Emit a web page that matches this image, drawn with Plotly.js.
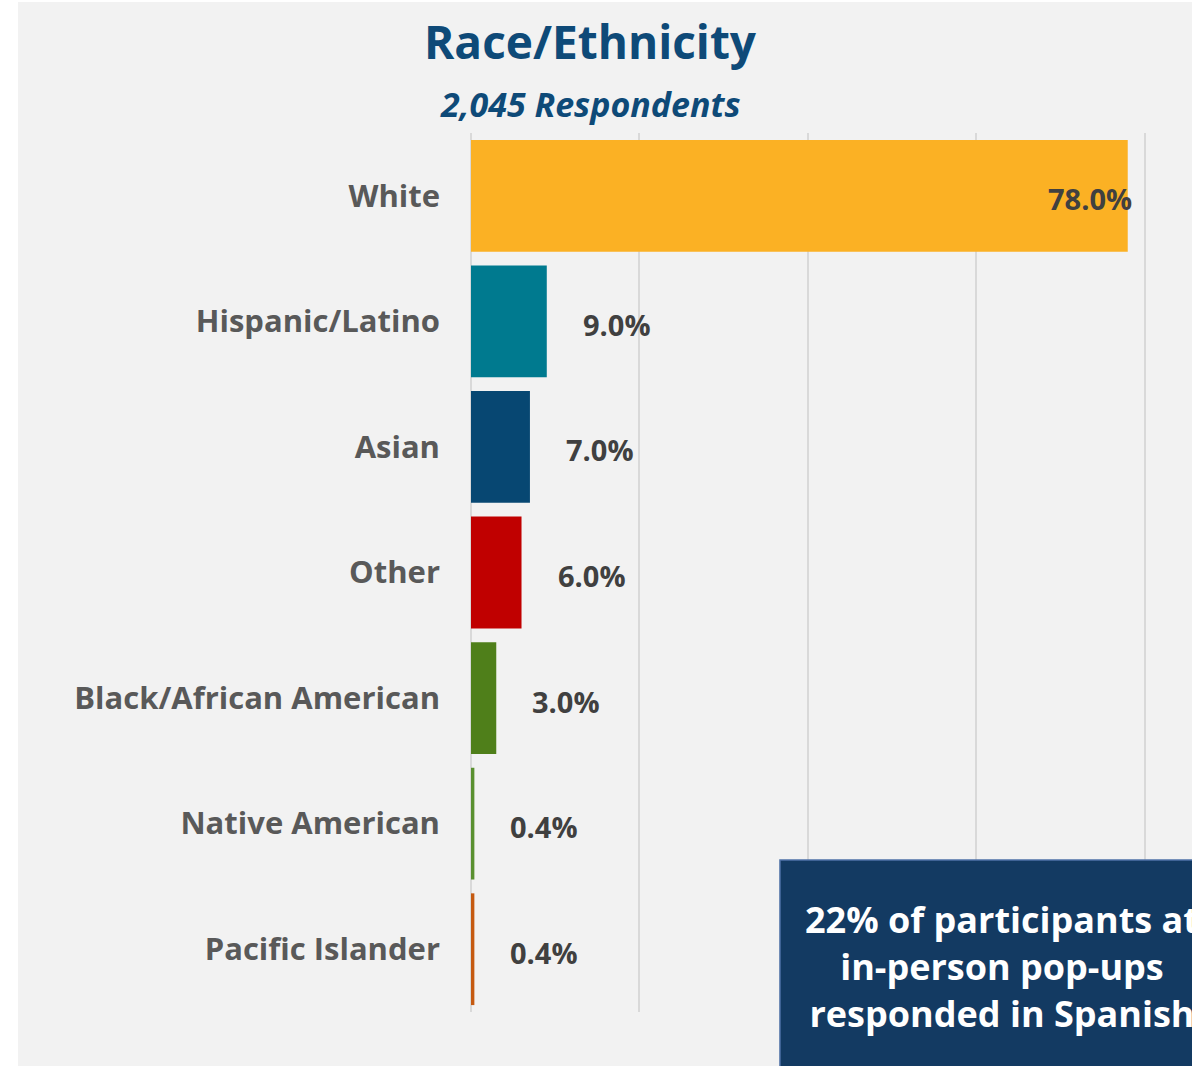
<!DOCTYPE html>
<html>
<head>
<meta charset="utf-8">
<script src="https://cdn.plot.ly/plotly-3.0.1.min.js"></script>
<style>
html, body { margin:0; padding:0; background:#ffffff; overflow:hidden; width:1192px; height:1066px; }
#chart { position:absolute; left:18px; top:2px; width:1500px; height:1064px; }
</style>
</head>
<body>
<div id="chart"></div>
<script>
// Data
const categories = ["White", "Hispanic/Latino", "Asian", "Other", "Black/African American", "Native American", "Pacific Islander"];
const percents = [78.0, 9.0, 7.0, 6.0, 3.0, 0.4, 0.4];
const barColors = ["#FBB124", "#007A8F", "#074772", "#C00000", "#4F7F1A", "#5A9030", "#C55A11"];
const titleText = "Race/Ethnicity";
const subtitleText = "2,045 Respondents";
const calloutText = "22% of participants at<br>in-person pop-ups<br>responded in Spanish";

const FONT = "'Open Sans', Lato, sans-serif";

const trace = {
  type: "bar",
  orientation: "h",
  y: categories,
  x: percents,
  marker: { color: barColors, line: { width: 0 } },
  hoverinfo: "skip"
};

const labelAnnots = categories.map((c, i) => {
  const inside = percents[i] > 50;
  return {
    xref: "x", yref: "y",
    x: percents[i], y: c,
    text: "<b>" + percents[i].toFixed(1) + "%</b>",
    showarrow: false,
    xanchor: inside ? "right" : "left",
    xshift: inside ? 6 : 34,
    yshift: -3,
    font: { family: FONT, size: 29, color: "#404040" }
  };
});

const layout = {
  width: 1500,
  height: 1064,
  paper_bgcolor: "#F2F2F2",
  plot_bgcolor: "#F2F2F2",
  margin: { l: 453, r: 0, t: 131, b: 54 },
  showlegend: false,
  bargap: 0.11,
  xaxis: {
    range: [0, 124.35],
    dtick: 20,
    tick0: 0,
    showgrid: true,
    gridcolor: "#D9D9D9",
    gridwidth: 2,
    zeroline: true,
    zerolinecolor: "#D9D9D9",
    zerolinewidth: 2,
    showticklabels: false,
    ticks: "",
    fixedrange: true
  },
  yaxis: {
    autorange: "reversed",
    ticks: "",
    showgrid: false,
    zeroline: false,
    ticklabelstandoff: 30,
    tickfont: { family: FONT, size: 31, color: "#595959", weight: "bold" },
    fixedrange: true
  },
  shapes: [
    {
      type: "rect", xref: "paper", yref: "paper", layer: "above",
      x0: 0.2951, x1: 1.3, y0: -0.3, y1: 0.1729,
      fillcolor: "#133A62",
      line: { color: "#4F72A8", width: 1.5 }
    }
  ],
  annotations: [
    {
      xref: "paper", yref: "paper", x: 0.1137, y: 1,
      yshift: 92, yanchor: "middle", xanchor: "center",
      text: "<b>" + titleText + "</b>", showarrow: false,
      font: { family: FONT, size: 46, color: "#0E4A78" }
    },
    {
      xref: "paper", yref: "paper", x: 0.1137, y: 1,
      yshift: 29, yanchor: "middle", xanchor: "center",
      text: "<b><i>" + subtitleText + "</i></b>", showarrow: false,
      font: { family: FONT, size: 34, color: "#0E4A78" }
    },
    {
      xref: "paper", yref: "paper", x: 0.507, y: 0.0523,
      xanchor: "center", yanchor: "middle",
      text: "<b>" + calloutText + "</b>", showarrow: false, align: "center",
      font: { family: FONT, size: 36, color: "#FFFFFF" }
    }
  ].concat(labelAnnots)
};

Plotly.newPlot("chart", [trace], layout, { displayModeBar: false, staticPlot: true });
</script>
</body>
</html>
